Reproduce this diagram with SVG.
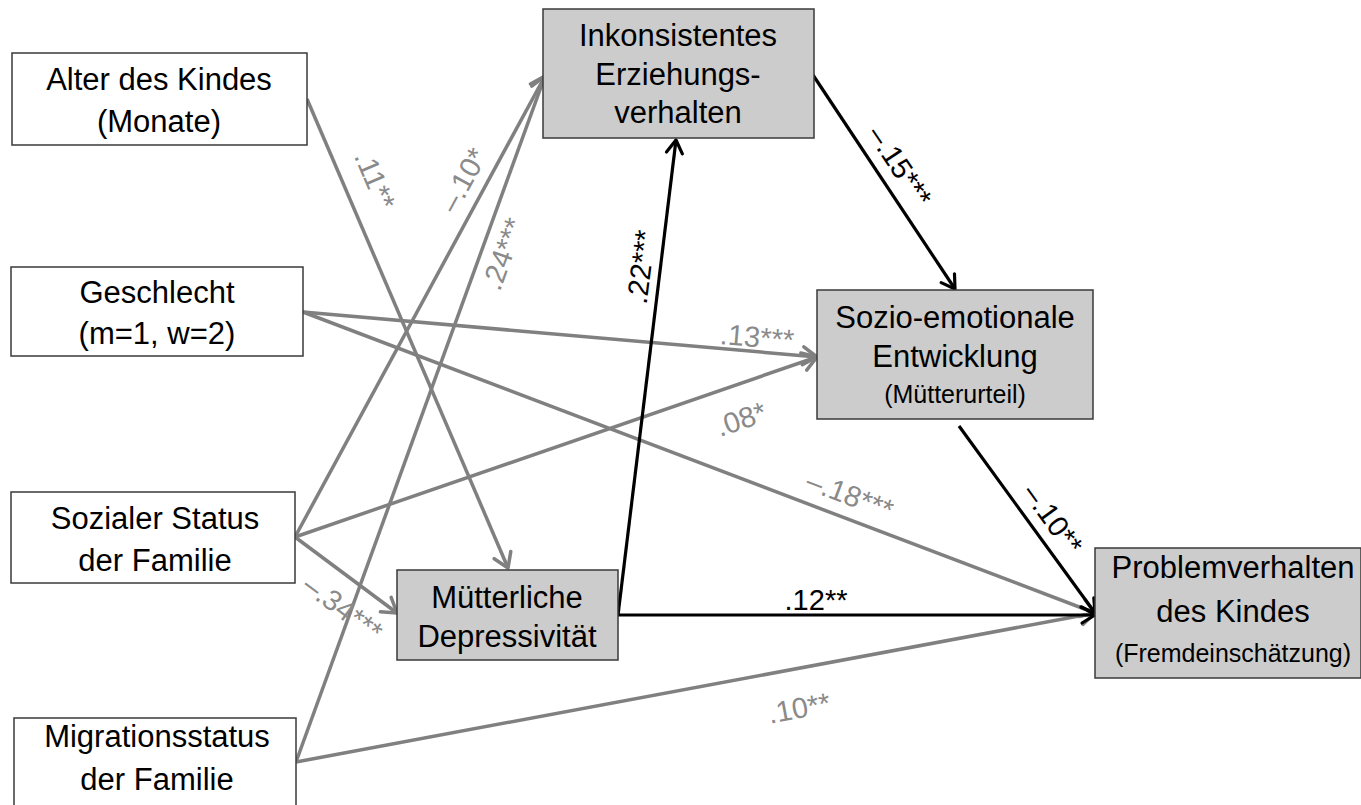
<svg xmlns="http://www.w3.org/2000/svg" width="1361" height="805" viewBox="0 0 1361 805">
<style>
.box{fill:#ffffff;stroke:#3a3a3a;stroke-width:1.5}
.gbox{fill:#cccccc;stroke:#3a3a3a;stroke-width:1.5}
.t{font-family:"Liberation Sans",Arial,sans-serif;font-size:31px;fill:#000;text-anchor:middle}
.ts{font-family:"Liberation Sans",Arial,sans-serif;font-size:25px;fill:#000;text-anchor:middle}
.g{stroke:#808080;stroke-width:3.5;fill:none;marker-end:url(#ag)}
.k{stroke:#000;stroke-width:3.2;fill:none;marker-end:url(#ak)}
.lg{font-family:"Liberation Sans",Arial,sans-serif;font-size:29px;fill:#8a8a8a;text-anchor:middle}
.lk{font-family:"Liberation Sans",Arial,sans-serif;font-size:29px;fill:#000;text-anchor:middle}
</style>
<defs>
<marker id="ag" markerUnits="userSpaceOnUse" markerWidth="30" markerHeight="30" viewBox="0 0 30 30" refX="27" refY="15" orient="auto">
<path d="M13,6 L27,15 L13,24" fill="none" stroke="#808080" stroke-width="3.5" stroke-linecap="round" stroke-linejoin="round"/>
</marker>
<marker id="ak" markerUnits="userSpaceOnUse" markerWidth="30" markerHeight="30" viewBox="0 0 30 30" refX="27" refY="15" orient="auto">
<path d="M14,7 L27,15 L14,23" fill="none" stroke="#000" stroke-width="3.2" stroke-linecap="round" stroke-linejoin="round"/>
</marker>
</defs>
<rect width="1361" height="805" fill="#ffffff"/>
<g id="connectors">
<path class="g" d="M307,99 L508,568"/>
<path class="g" d="M303,312 L817,357"/>
<path class="g" d="M303,312 L1095,613"/>
<path class="g" d="M295,537 L545,76"/>
<path class="g" d="M295,537 L817,357"/>
<path class="g" d="M295,537 L397,613"/>
<path class="g" d="M296,762 L545,76"/>
<path class="g" d="M296,762 L1095,613"/>
<path class="k" d="M618,615 L676,140"/>
<path class="k" d="M618,615 L1095,615"/>
<path class="k" d="M813,75 L955,289"/>
<path class="k" d="M959,426 L1095,613"/>
<text class="lg" transform="translate(375,180) rotate(66.8)" dy="0.35em">.11**</text>
<text class="lg" transform="translate(463,180) rotate(-61.3)" dy="0.35em">–.10*</text>
<text class="lg" transform="translate(503,254) rotate(-69.9)" dy="0.35em">.24***</text>
<text class="lk" transform="translate(641,267) rotate(-82.8)" dy="0.35em">.22***</text>
<text class="lk" transform="translate(900,166) rotate(56.3)" dy="0.35em">–.15***</text>
<text class="lg" transform="translate(757,337) rotate(5)" dy="0.35em">.13***</text>
<text class="lg" transform="translate(741,419) rotate(-19)" dy="0.35em">.08*</text>
<text class="lg" transform="translate(850,495) rotate(20.8)" dy="0.35em">–.18***</text>
<text class="lk" transform="translate(1053,519) rotate(54)" dy="0.35em">–.10**</text>
<text class="lk" transform="translate(816,600)" dy="0.35em">.12**</text>
<text class="lg" transform="translate(799,708) rotate(-10.6)" dy="0.35em">.10**</text>
<text class="lg" transform="translate(343,608) rotate(36.7)" dy="0.35em" fill="#9a9a9a">–.34***</text>
</g>
<g id="alter">
<rect class="box" x="12" y="53" width="295" height="92"/>
<text class="t" x="159" y="90">Alter des Kindes</text>
<text class="t" x="159" y="132">(Monate)</text>
</g>
<g id="geschlecht">
<rect class="box" x="11" y="267" width="292" height="89"/>
<text class="t" x="157" y="303">Geschlecht</text>
<text class="t" x="157" y="344">(m=1, w=2)</text>
</g>
<g id="sozialer-status">
<rect class="box" x="11" y="492" width="284" height="91"/>
<text class="t" x="155" y="529">Sozialer Status</text>
<text class="t" x="155" y="571">der Familie</text>
</g>
<g id="migrationsstatus">
<rect class="box" x="14" y="718" width="282" height="95"/>
<text class="t" x="157" y="747">Migrationsstatus</text>
<text class="t" x="157" y="790">der Familie</text>
</g>
<g id="inkonsistentes">
<rect class="gbox" x="543" y="9" width="271" height="129"/>
<text class="t" x="678" y="46">Inkonsistentes</text>
<text class="t" x="678" y="85">Erziehungs-</text>
<text class="t" x="678" y="123">verhalten</text>
</g>
<g id="sozio-emotionale">
<rect class="gbox" x="817" y="290" width="276" height="129"/>
<text class="t" x="955" y="328">Sozio-emotionale</text>
<text class="t" x="955" y="367">Entwicklung</text>
<text class="ts" x="955" y="403">(Mütterurteil)</text>
</g>
<g id="muetterliche-depressivitaet">
<rect class="gbox" x="397" y="570" width="221" height="90"/>
<text class="t" x="507" y="608">Mütterliche</text>
<text class="t" x="507" y="647">Depressivität</text>
</g>
<g id="problemverhalten">
<rect class="gbox" x="1095" y="548" width="266" height="130"/>
<text class="t" x="1233" y="578">Problemverhalten</text>
<text class="t" x="1233" y="622">des Kindes</text>
<text class="ts" x="1233" y="662">(Fremdeinschätzung)</text>
</g>
</svg>
